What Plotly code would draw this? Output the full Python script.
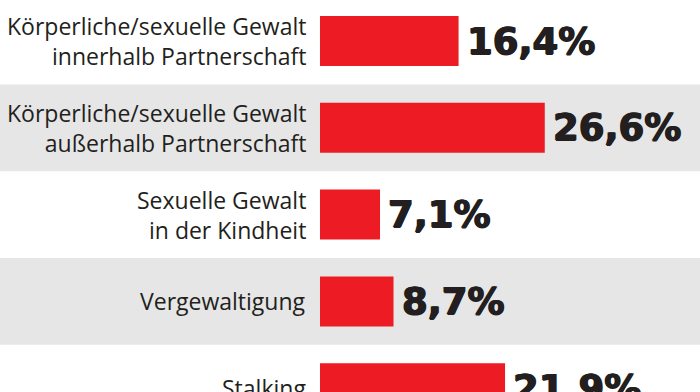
import plotly.graph_objects as go

categories = [
    "Körperliche/sexuelle Gewalt<br>innerhalb Partnerschaft",
    "Körperliche/sexuelle Gewalt<br>außerhalb Partnerschaft",
    "Sexuelle Gewalt<br>in der Kindheit",
    "Vergewaltigung",
    "Stalking",
]
values = [16.4, 26.6, 7.1, 8.7, 21.9]
value_labels = ["16,4%", "26,6%", "7,1%", "8,7%", "21,9%"]
banded = [False, True, False, True, False]

W, H = 700, 392
px_per_unit = 8.45
x_origin_px = 320
row_px = 86.8
first_center_px = 41

positions = list(range(len(categories)))

fig = go.Figure()
fig.add_trace(go.Bar(
    x=values, y=positions, orientation="h",
    marker=dict(color="#ED1C24", line=dict(width=0)),
    width=50 / row_px, hoverinfo="skip",
))

shapes = []
for p, b in zip(positions, banded):
    if b:
        shapes.append(dict(type="rect", xref="x", yref="y",
                           x0=-100, x1=100, y0=p - 0.5, y1=p + 0.5,
                           fillcolor="#E6E6E6", line=dict(width=0), layer="below"))

heavy_shadow = "0.7px 0 0 #231F20, -0.7px 0 0 #231F20, 0 0.5px 0 #231F20"

annotations = []
for p, c, v, lab in zip(positions, categories, values, value_labels):
    annotations.append(dict(x=0, y=p, xref="x", yref="y", text=c, showarrow=False,
                            xanchor="right", yanchor="middle", xshift=-12, align="right",
                            font=dict(family="Open Sans", size=23, color="#231F20")))
    annotations.append(dict(x=v, y=p, xref="x", yref="y", text=lab, showarrow=False,
                            xanchor="left", yanchor="middle", xshift=6,
                            font=dict(family="DejaVu Sans", size=37, color="#231F20",
                                      weight="bold", shadow=heavy_shadow)))

xmin = -x_origin_px / px_per_unit
xmax = (W - x_origin_px) / px_per_unit
ytop = -first_center_px / row_px
ybot = (H - first_center_px) / row_px

fig.update_layout(
    width=W, height=H,
    margin=dict(l=0, r=0, t=0, b=0),
    paper_bgcolor="white", plot_bgcolor="white",
    showlegend=False,
    shapes=shapes, annotations=annotations,
    xaxis=dict(range=[xmin, xmax], visible=False, fixedrange=True),
    yaxis=dict(range=[ybot, ytop], visible=False, fixedrange=True),
)

fig.write_html("out.html", config={"displayModeBar": False},
               post_script="document.body.style.margin='0';document.body.style.overflow='hidden';")
